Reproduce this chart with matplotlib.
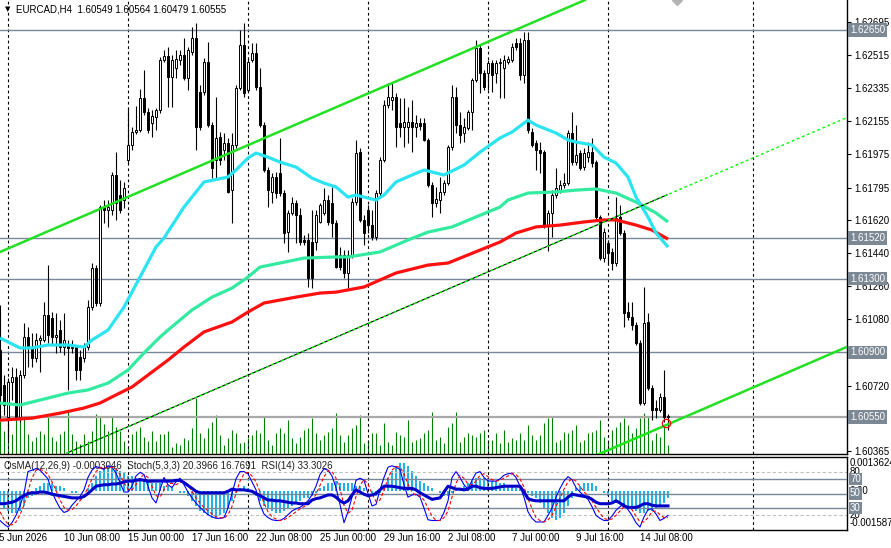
import matplotlib
matplotlib.use("Agg")
import matplotlib.pyplot as plt
import matplotlib.transforms as mtransforms
import numpy as np

plt.rcParams['font.family'] = ['Liberation Sans', 'DejaVu Sans']

# ---- EURCAD H4, bars from 5 Jun 16:00 (index -2) to 15 Jul 12:00 ----
opens = [
    1.60913, 1.60723, 1.60549, 1.60739, 1.60766, 1.60549, 1.60777, 1.60983, 1.60929, 1.60870,
    1.60967, 1.60967, 1.61103, 1.61087, 1.60983, 1.61021, 1.60929, 1.60940, 1.60924, 1.60929,
    1.60875, 1.60870, 1.60929, 1.61146, 1.61358, 1.61168, 1.61689, 1.61673, 1.61673, 1.61863,
    1.61754, 1.61727, 1.61944, 1.62026, 1.62096, 1.62107, 1.62281, 1.62205, 1.62145, 1.62178,
    1.62216, 1.62487, 1.62509, 1.62395, 1.62444, 1.62487, 1.62514, 1.62389, 1.62531, 1.62607,
    1.62313, 1.62313, 1.62476, 1.62134, 1.61944, 1.62069, 1.61998, 1.62037, 1.61781, 1.62026,
    1.62335, 1.62569, 1.62324, 1.62487, 1.62525, 1.62341, 1.62134, 1.61890, 1.61771, 1.61852,
    1.61874, 1.61765, 1.61553, 1.61657, 1.61711, 1.61646, 1.61510, 1.61510, 1.61499, 1.61499,
    1.61608, 1.61657, 1.61727, 1.61711, 1.61603, 1.61429, 1.61429, 1.61331, 1.61429, 1.61716,
    1.61987, 1.61619, 1.61673, 1.61591, 1.61526, 1.61765, 1.61944, 1.62243, 1.62270, 1.62286,
    1.62145, 1.62123, 1.62123, 1.62151, 1.62123, 1.62145, 1.62145, 1.62053, 1.61808, 1.61711,
    1.61727, 1.61771, 1.61819, 1.62015, 1.62286, 1.62134, 1.62091, 1.62118, 1.62205, 1.62379,
    1.62552, 1.62417, 1.62417, 1.62471, 1.62417, 1.62471, 1.62444, 1.62476, 1.62487, 1.62580,
    1.62580, 1.62406, 1.62596, 1.62096, 1.62037, 1.61998, 1.61987, 1.61591, 1.61657, 1.61754,
    1.61781, 1.61808, 1.61819, 1.62091, 1.61933, 1.61982, 1.61906, 1.61960, 1.61987, 1.61933,
    1.61635, 1.61412, 1.61494, 1.61445, 1.61385, 1.61635, 1.61548, 1.61119, 1.61092, 1.61048,
    1.60951, 1.60625, 1.61065, 1.60706, 1.60598, 1.60587, 1.60658, 1.60549,
]
highs = [
    1.61157, 1.60777, 1.60761, 1.60820, 1.60815, 1.60804, 1.61060, 1.61038, 1.61005, 1.61005,
    1.60994, 1.61173, 1.61374, 1.61119, 1.61114, 1.61076, 1.61114, 1.60967, 1.60967, 1.60940,
    1.60913, 1.60951, 1.61184, 1.61385, 1.61374, 1.61700, 1.61727, 1.61727, 1.61879, 1.61987,
    1.61836, 1.61825, 1.62227, 1.62123, 1.62237, 1.62330, 1.62433, 1.62227, 1.62216, 1.62227,
    1.62504, 1.62542, 1.62558, 1.62514, 1.62542, 1.62542, 1.62607, 1.62558, 1.62666, 1.62688,
    1.62351, 1.62498, 1.62585, 1.62151, 1.62286, 1.62096, 1.62091, 1.62064, 1.62091, 1.62351,
    1.62650, 1.62688, 1.62498, 1.62580, 1.62580, 1.62444, 1.62151, 1.61906, 1.61874, 1.61879,
    1.62064, 1.61781, 1.61673, 1.61743, 1.61727, 1.61684, 1.61537, 1.61548, 1.61673, 1.61673,
    1.61711, 1.61792, 1.61754, 1.61798, 1.61619, 1.61472, 1.61456, 1.61456, 1.61738, 1.62053,
    1.62009, 1.61646, 1.61700, 1.61673, 1.61781, 1.61960, 1.62270, 1.62362, 1.62362, 1.62308,
    1.62281, 1.62281, 1.62232, 1.62270, 1.62189, 1.62172, 1.62172, 1.62064, 1.61825, 1.61798,
    1.61852, 1.61836, 1.62026, 1.62351, 1.62341, 1.62205, 1.62172, 1.62216, 1.62389, 1.62596,
    1.62569, 1.62433, 1.62487, 1.62487, 1.62487, 1.62498, 1.62514, 1.62509, 1.62580, 1.62607,
    1.62607, 1.62639, 1.62639, 1.62118, 1.62053, 1.62042, 1.61998, 1.61673, 1.61781, 1.61901,
    1.61836, 1.61874, 1.62107, 1.62205, 1.62134, 1.61998, 1.62009, 1.62042, 1.62064, 1.61944,
    1.61646, 1.61575, 1.61510, 1.61467, 1.61743, 1.61700, 1.61564, 1.61173, 1.61173, 1.61065,
    1.60967, 1.61255, 1.61114, 1.60723, 1.60641, 1.60680, 1.60804, 1.60564,
]
lows = [
    1.60532, 1.60560, 1.60424, 1.60641, 1.60532, 1.60521, 1.60761, 1.60820, 1.60820, 1.60847,
    1.60793, 1.60956, 1.60951, 1.60940, 1.60897, 1.60902, 1.60886, 1.60696, 1.60897, 1.60750,
    1.60750, 1.60847, 1.60913, 1.61130, 1.61151, 1.61151, 1.61603, 1.61581, 1.61646, 1.61619,
    1.61657, 1.61684, 1.61928, 1.61998, 1.62085, 1.62096, 1.62189, 1.62091, 1.62069, 1.62107,
    1.62200, 1.62476, 1.62232, 1.62232, 1.62389, 1.62460, 1.62379, 1.62324, 1.62514, 1.61998,
    1.62107, 1.62297, 1.62123, 1.61846, 1.61836, 1.61917, 1.61944, 1.61765, 1.61603, 1.62009,
    1.62324, 1.62286, 1.62313, 1.62476, 1.62324, 1.62123, 1.61879, 1.61689, 1.61711, 1.61738,
    1.61749, 1.61494, 1.61445, 1.61646, 1.61494, 1.61483, 1.61483, 1.61255, 1.61249, 1.61456,
    1.61603, 1.61646, 1.61591, 1.61526, 1.61358, 1.61347, 1.61304, 1.61249, 1.61412, 1.61700,
    1.61608, 1.61483, 1.61548, 1.61510, 1.61510, 1.61749, 1.61933, 1.62227, 1.62216, 1.62015,
    1.62069, 1.62015, 1.62037, 1.61987, 1.62069, 1.62107, 1.62047, 1.61798, 1.61635, 1.61689,
    1.61657, 1.61754, 1.61808, 1.61998, 1.62091, 1.62037, 1.62042, 1.62107, 1.62107, 1.62368,
    1.62308, 1.62324, 1.62324, 1.62313, 1.62362, 1.62281, 1.62281, 1.62465, 1.62476, 1.62542,
    1.62379, 1.62362, 1.62091, 1.62015, 1.61890, 1.61874, 1.61575, 1.61450, 1.61526, 1.61738,
    1.61765, 1.61792, 1.61808, 1.61917, 1.61917, 1.61890, 1.61890, 1.61933, 1.61906, 1.61619,
    1.61401, 1.61390, 1.61374, 1.61347, 1.61369, 1.61537, 1.61038, 1.61076, 1.61021, 1.60940,
    1.60614, 1.60614, 1.60696, 1.60532, 1.60543, 1.60576, 1.60521, 1.60479,
]
closes = [
    1.60669, 1.60614, 1.60739, 1.60766, 1.60549, 1.60777, 1.60983, 1.60929, 1.60870, 1.60967,
    1.60978, 1.61103, 1.60994, 1.60983, 1.60994, 1.60929, 1.60967, 1.60924, 1.60929, 1.60804,
    1.60804, 1.60929, 1.61146, 1.61358, 1.61168, 1.61689, 1.61673, 1.61689, 1.61863, 1.61711,
    1.61673, 1.61792, 1.62026, 1.62096, 1.62107, 1.62281, 1.62205, 1.62107, 1.62183, 1.62216,
    1.62487, 1.62509, 1.62395, 1.62487, 1.62493, 1.62514, 1.62389, 1.62542, 1.62607, 1.62123,
    1.62123, 1.62476, 1.62134, 1.61901, 1.62064, 1.61944, 1.62037, 1.61771, 1.62026, 1.62335,
    1.62569, 1.62308, 1.62476, 1.62525, 1.62341, 1.62134, 1.61890, 1.61781, 1.61852, 1.61765,
    1.61765, 1.61548, 1.61657, 1.61711, 1.61646, 1.61499, 1.61499, 1.61304, 1.61304, 1.61646,
    1.61700, 1.61727, 1.61608, 1.61603, 1.61363, 1.61363, 1.61331, 1.61429, 1.61716, 1.61982,
    1.61619, 1.61548, 1.61591, 1.61526, 1.61765, 1.61944, 1.62243, 1.62286, 1.62286, 1.62123,
    1.62123, 1.62151, 1.62151, 1.62123, 1.62145, 1.62129, 1.62053, 1.61808, 1.61711, 1.61732,
    1.61771, 1.61819, 1.62015, 1.62286, 1.62134, 1.62080, 1.62123, 1.62205, 1.62379, 1.62552,
    1.62417, 1.62341, 1.62471, 1.62406, 1.62471, 1.62476, 1.62487, 1.62493, 1.62558, 1.62558,
    1.62406, 1.62596, 1.62107, 1.62026, 1.61998, 1.61982, 1.61591, 1.61657, 1.61754, 1.61792,
    1.61808, 1.61819, 1.62091, 1.61933, 1.61971, 1.61901, 1.61982, 1.61987, 1.61928, 1.61635,
    1.61412, 1.61553, 1.61439, 1.61385, 1.61630, 1.61548, 1.61114, 1.61092, 1.61048, 1.60951,
    1.60625, 1.61060, 1.60706, 1.60587, 1.60587, 1.60658, 1.60549, 1.60555,
]
volumes = [
    33, 23, 30, 20, 37, 40, 37, 20, 13, 17,
    23, 20, 38, 17, 13, 20, 23, 43, 20, 13,
    10, 20, 13, 23, 40, 38, 30, 23, 37, 27,
    23, 13, 7, 20, 23, 27, 17, 13, 23, 13,
    20, 20, 23, 7, 11, 9, 16, 14, 26, 56,
    21, 16, 26, 32, 39, 19, 9, 16, 24, 21,
    11, 12, 16, 19, 24, 21, 37, 14, 9, 21,
    26, 21, 34, 16, 11, 17, 24, 26, 36, 21,
    14, 19, 22, 26, 41, 19, 12, 19, 26, 29,
    39, 11, 14, 21, 21, 9, 31, 12, 9, 22,
    19, 17, 34, 12, 14, 16, 21, 24, 42, 14,
    17, 11, 27, 31, 42, 12, 17, 21, 19, 17,
    21, 24, 14, 14, 21, 11, 24, 12, 16, 14,
    21, 14, 29, 19, 14, 19, 31, 36, 37, 12,
    14, 22, 21, 24, 29, 12, 14, 21, 22, 24,
    34, 17, 12, 24, 27, 32, 36, 29, 21, 26,
    36, 41, 37, 14, 21, 17, 27, 9,
]

# moving averages, read at sample bars
ma_fast_idx = [-2, 3, 6, 10, 15, 19, 21, 25, 29, 33, 37, 39, 44, 49, 55, 57, 60, 62, 65, 68,
               72, 76, 79, 82, 85, 87, 92, 94, 97, 101, 104, 109, 114, 118, 123, 126, 130, 132,
               137, 140, 142, 146, 149, 152, 155, 157, 160, 162, 165]
ma_fast = [1.60978, 1.60924, 1.60924, 1.60940, 1.60940, 1.60929, 1.60967, 1.61021, 1.61146, 1.61309,
           1.61472, 1.61521, 1.61689, 1.61825, 1.61852, 1.61890, 1.61955, 1.61982, 1.61960, 1.61933,
           1.61906, 1.61846, 1.61819, 1.61798, 1.61743, 1.61754, 1.61727, 1.61754, 1.61825, 1.61863,
           1.61890, 1.61863, 1.61917, 1.61987, 1.62064, 1.62096, 1.62161, 1.62134, 1.62091, 1.62053,
           1.62042, 1.62026, 1.61960, 1.61928, 1.61852, 1.61743, 1.61635, 1.61548, 1.61472]
ma_mid_idx = [-2, 3, 10, 15, 20, 25, 30, 34, 38, 40, 46, 51, 56, 60, 63, 68, 74, 82, 85, 93,
              100, 105, 111, 117, 123, 125, 130, 137, 142, 147, 152, 157, 162, 165]
ma_mid = [1.60625, 1.60614, 1.60652, 1.60679, 1.60696, 1.60733, 1.60804, 1.60897, 1.60983, 1.61021,
          1.61130, 1.61200, 1.61249, 1.61309, 1.61363, 1.61385, 1.61412, 1.61418, 1.61418, 1.61445,
          1.61510, 1.61553, 1.61581, 1.61635, 1.61689, 1.61727, 1.61765, 1.61771, 1.61781, 1.61787,
          1.61765, 1.61716, 1.61657, 1.61608]
ma_slow_idx = [-2, 6, 13, 19, 23, 27, 31, 35, 40, 44, 49, 56, 60, 64, 72, 78, 82, 89, 97, 105,
               110, 115, 123, 127, 132, 138, 144, 149, 152, 157, 161, 165]
ma_slow = [1.60532, 1.60543, 1.60570, 1.60598, 1.60625, 1.60669, 1.60712, 1.60777, 1.60858, 1.60929,
           1.61011, 1.61065, 1.61119, 1.61168, 1.61200, 1.61222, 1.61227, 1.61255, 1.61331, 1.61374,
           1.61385, 1.61429, 1.61499, 1.61548, 1.61581, 1.61591, 1.61608, 1.61619, 1.61619, 1.61591,
           1.61564, 1.61515]

# trend lines (bar index, price)
upper_channel = ([-2, 144.25], [1.61445, 1.62813])
lower_channel = ([14.75, 164.75], [1.60354, 1.61755])
lower_ray = ([14.75, 209.75], [1.60354, 1.62175])
support_line = ([147.25, 209.75], [1.60343, 1.60930])

levels = [1.62650, 1.61520, 1.61300, 1.60900, 1.60550]
price_ticks = [1.62695, 1.62515, 1.62335, 1.62155, 1.61975, 1.61795, 1.61620,
               1.61440, 1.61260, 1.61080, 1.60900, 1.60720, 1.60365]
week_lines = [0, 30, 60, 90, 120, 150, 186.25]
date_idx = [-2.25, 14, 30, 46, 62, 78, 94, 110, 126, 142, 158]
date_labels = ["5 Jun 2026", "10 Jun 08:00", "15 Jun 00:00", "17 Jun 16:00", "22 Jun 08:00",
               "25 Jun 00:00", "29 Jun 16:00", "2 Jul 08:00", "7 Jul 00:00", "9 Jul 16:00",
               "14 Jul 08:00"]

# oscillators (OsMA in 1e-4)
osma = [
    -5, -7, -8, -9, -9, -8, -6, -3, -2, 1,
    2, 3, 3, 3, 2, 2, 1, 0, -1, -1,
    0, 0, 1, 3, 6, 8, 9, 10, 10, 9,
    8, 7, 6, 6, 5, 5, 4, 4, 3, 3,
    3, 2, 2, 1, 0, -1, -1, -2, -4, -6,
    -8, -9, -10, -11, -11, -10, -9, -7, -4, -1,
    1, 2, 1, 0, -2, -4, -6, -7, -8, -9,
    -9, -8, -7, -6, -5, -4, -3, -3, -2, -1,
    1, 2, 3, 3, 4, 3, 3, 3, 3, 2,
    2, 1, 0, -1, -2, -1, 2, 5, 8, 10,
    11, 11, 10, 8, 6, 4, 3, 2, 1, 0,
    -1, -2, -2, -1, 1, 1, 2, 3, 4, 5,
    5, 5, 5, 4, 4, 3, 3, 2, 2, 1,
    1, 0, -1, -2, -3, -5, -7, -9, -11, -12,
    -11, -9, -6, -3, 1, 2, 3, 3, 3, 2,
    0, -1, -2, -4, -5, -5, -6, -6, -7, -8,
    -9, -9, -8, -8, -7, -6, -5, -3,
]
stoch_main = [
    13, 8, 4, 10, 20, 33, 50, 80, 82, 84,
    82, 76, 70, 52, 40, 30, 24, 26, 34, 40,
    46, 55, 72, 82, 87, 85, 83, 88, 86, 78,
    65, 52, 52, 60, 74, 79, 76, 60, 44, 37,
    55, 72, 62, 58, 66, 71, 62, 52, 44, 37,
    31, 26, 21, 18, 16, 16, 17, 30, 50, 70,
    80, 80, 77, 66, 55, 35, 22, 17, 14, 13,
    13, 16, 21, 26, 29, 31, 35, 40, 48, 60,
    76, 84, 82, 74, 58, 35, 10, 25, 45, 68,
    71, 68, 50, 33, 35, 55, 72, 86, 88, 86,
    83, 62, 45, 48, 49, 45, 30, 14, 13, 13,
    13, 24, 40, 72, 80, 72, 62, 56, 68, 78,
    80, 72, 67, 67, 67, 70, 75, 77, 78, 72,
    60, 45, 25, 16, 11, 11, 11, 20, 30, 45,
    57, 67, 73, 69, 58, 52, 47, 42, 32, 20,
    16, 13, 13, 19, 27, 32, 36, 28, 20, 10,
    4, 18, 28, 29, 22, 13, 16, 20,
]
stoch_signal = [
    25, 15, 8, 7, 11, 21, 34, 54, 71, 82,
    83, 81, 76, 66, 54, 41, 31, 27, 28, 33,
    40, 47, 58, 70, 80, 85, 85, 85, 86, 84,
    76, 65, 56, 55, 62, 71, 76, 72, 60, 47,
    45, 55, 63, 64, 62, 65, 66, 62, 53, 44,
    37, 31, 26, 22, 18, 17, 16, 21, 32, 50,
    67, 77, 79, 74, 66, 52, 37, 25, 18, 15,
    13, 14, 17, 21, 25, 29, 32, 35, 41, 49,
    61, 73, 81, 80, 71, 56, 34, 23, 27, 46,
    61, 69, 63, 50, 39, 41, 54, 71, 82, 87,
    86, 77, 63, 52, 47, 47, 41, 30, 19, 13,
    13, 17, 26, 45, 64, 75, 71, 63, 62, 67,
    75, 77, 73, 69, 67, 68, 71, 74, 77, 76,
    70, 59, 43, 29, 17, 13, 11, 14, 20, 32,
    44, 56, 66, 70, 67, 60, 52, 47, 40, 31,
    23, 16, 14, 15, 20, 26, 32, 32, 28, 19,
    11, 11, 17, 25, 26, 21, 17, 17,
]
rsi = [
    36, 36, 37, 38, 40, 44, 47, 50, 51, 51,
    52, 52, 51, 49, 48, 47, 46, 45, 44, 44,
    44, 46, 50, 55, 60, 61, 62, 62, 63, 63,
    64, 66, 67, 67, 68, 69, 68, 67, 67, 67,
    67, 67, 67, 67, 68, 68, 65, 61, 57, 53,
    51, 51, 51, 51, 51, 51, 51, 53, 56, 55,
    55, 55, 54, 53, 50, 47, 44, 41, 41, 40,
    40, 39, 38, 37, 37, 36, 36, 36, 41, 43,
    44, 46, 48, 48, 45, 40, 37, 40, 48, 55,
    52, 49, 47, 48, 50, 55, 60, 60, 60, 59,
    58, 57, 57, 57, 55, 51, 48, 45, 42, 43,
    44, 52, 60, 58, 56, 56, 55, 56, 60, 60,
    58, 57, 57, 57, 58, 59, 60, 60, 60, 60,
    60, 52, 43, 41, 40, 40, 40, 40, 40, 40,
    40, 40, 45, 49, 48, 47, 46, 45, 42, 38,
    36, 36, 36, 37, 40, 37, 33, 31, 31, 31,
    33, 36, 36, 34, 33, 33, 33, 33,
]

# ---- layout (pixels of the 891x548 picture) ----
W, H = 891.0, 548.0
main_rect = [0, (H - 453.5) / H, 847 / W, 453.5 / H]
ind_rect = [0, (H - 530) / H, 847 / W, 73 / H]
XMIN, XMAX = -2, 209.75
PMIN, PMAX = 1.60351, 1.62813
LEVEL_GRAY = '#778899'

fig = plt.figure(figsize=(W / 100, H / 100), dpi=100)

# volume underneath the price chart
vax = fig.add_axes(main_rect)
vb = np.arange(len(volumes)) - 2
vax.vlines(vb, 0, volumes, color='#008000', lw=0.8)
vax.set_xlim(XMIN, XMAX)
vax.set_ylim(0, 453.5)
vax.axis('off')

ax = fig.add_axes(main_rect)
ax.patch.set_visible(False)
ax.set_xlim(XMIN, XMAX)
ax.set_ylim(PMIN, PMAX)

for wl in week_lines:
    ax.axvline(wl, color='black', lw=0.8, ls=(0, (2.5, 2.5)), zorder=1)
for lv in levels:
    if lv == 1.60550:
        ax.axhline(lv, color='#a9a9a9', lw=1.6, zorder=1.5)
    else:
        ax.axhline(lv, color=LEVEL_GRAY, lw=1.0, zorder=1.5)

# candles
bars = np.arange(len(closes)) - 2
o = np.array(opens); c = np.array(closes)
ax.vlines(bars, lows, highs, color='black', lw=0.8, zorder=3)
up = c >= o
body_lo = np.minimum(o, c)
body_h = np.maximum(np.abs(c - o), 0.00002)
ax.bar(bars[up], body_h[up], bottom=body_lo[up], width=0.55, color='white',
       edgecolor='black', linewidth=0.7, zorder=3.5)
ax.bar(bars[~up], body_h[~up], bottom=body_lo[~up], width=0.55, color='black',
       edgecolor='black', linewidth=0.7, zorder=3.5)

# moving averages
ax.plot(ma_slow_idx, ma_slow, color='#ff1010', lw=2.3, zorder=4, solid_capstyle='butt')
ax.plot(ma_mid_idx, ma_mid, color='#33eba0', lw=2.3, zorder=4, solid_capstyle='butt')
ax.plot(ma_fast_idx, ma_fast, color='#2ae4f2', lw=2.3, zorder=4, solid_capstyle='butt')

# trend lines
ax.plot(*upper_channel, color='#22e022', lw=1.8, zorder=5)
ax.plot(*support_line, color='#22e022', lw=1.8, zorder=5)
ax.plot(*lower_channel, color='black', lw=0.8, zorder=5)
ax.plot(*lower_ray, color='#00ff00', lw=1.0, ls=(0, (2, 2)), zorder=5.5)

ax.plot([164.5], [1.60516], marker='o', ms=6, mfc='none', mec='red', mew=0.9, zorder=6)
ax.plot([167.25], [PMAX - 0.00002], marker='D', ms=5, color='#b4b4b4', zorder=6)

# price scale on the right
ax.yaxis.tick_right()
ax.set_yticks(price_ticks)
ax.set_yticklabels(["" if t in levels else f"{t:.5f}" for t in price_ticks])
ax.tick_params(axis='y', length=3, width=0.8, labelsize=7, pad=2, colors='black')
ax.set_xticks([])
for s in ['top', 'left']:
    ax.spines[s].set_visible(False)
ax.spines['right'].set_linewidth(1.0)
ax.spines['bottom'].set_linewidth(1.0)

ptrans = mtransforms.blended_transform_factory(ax.transAxes, ax.transData)
for lv in levels:
    ax.text(1.0 + 3 / 847, lv, f"{lv:.5f}", transform=ptrans, ha='left', va='center',
            fontsize=7, color='white', clip_on=False, zorder=10,
            bbox=dict(boxstyle='square,pad=0.18', fc='#7c8894', ec='none'))

fig.text(5 / W, 1 - 9 / H, "\u25bc", fontsize=5, ha='left', va='center', family='DejaVu Sans')
fig.text(16 / W, 1 - 9 / H, "EURCAD,H4  1.60549 1.60564 1.60479 1.60555", fontsize=7,
         ha='left', va='center', color='black')

# ---- indicator window ----
oax = fig.add_axes(ind_rect)
ib = np.arange(len(osma)) - 2
oax.bar(ib, np.array(osma) * 1e-4, width=0.6, color='#1eb3ea', zorder=2)
oax.set_xlim(XMIN, XMAX)
oax.set_ylim(-0.001587, 0.0013624)
oax.set_xticks([])
oax.set_yticks([])
for s in oax.spines.values():
    s.set_visible(False)

sax = fig.add_axes(ind_rect)
sax.patch.set_visible(False)
sax.set_xlim(XMIN, XMAX)
sax.set_ylim(0, 100)
for lv in [80, 20]:
    sax.axhline(lv, color='#c0c0c0', lw=0.8, ls=(0, (3, 2)), zorder=1)
for lv in [70, 50, 30]:
    sax.axhline(lv, color=LEVEL_GRAY, lw=1.0, zorder=3)
for wl in week_lines:
    sax.axvline(wl, color='black', lw=0.8, ls=(0, (2.5, 2.5)), zorder=1)
sb = np.arange(len(stoch_main)) - 2
sax.plot(sb, stoch_main, color='#0000ff', lw=0.8, zorder=4)
sax.plot(np.arange(len(stoch_signal)) - 2, stoch_signal, color='red', lw=0.8,
         ls=(0, (3, 2)), zorder=4)
sax.plot(np.arange(len(rsi)) - 2, rsi, color='#0000c8', lw=2.2, zorder=5)
sax.set_xticks([])
sax.set_yticks([])
sax.spines['left'].set_visible(False)
for s in ['top', 'right', 'bottom']:
    sax.spines[s].set_linewidth(1.0)

sax.text(4 / 847, 0.88, "OsMA(12,26,9) -0.0003046  Stoch(5,3,3) 20.3966 16.7691  RSI(14) 33.3026",
         transform=sax.transAxes, fontsize=7, ha='left', va='center', color='#202020')

strans = mtransforms.blended_transform_factory(sax.transAxes, sax.transData)
otrans = mtransforms.blended_transform_factory(oax.transAxes, oax.transData)
xr = 1.0 + 3 / 847
sax.text(xr, 91.5, "0.0013624", transform=strans, fontsize=7, ha='left', va='center', clip_on=False)
sax.text(xr, 80, "80", transform=strans, fontsize=7, ha='left', va='center', clip_on=False)
oax.text(xr, 0.0, "0.00", transform=otrans, fontsize=7, ha='left', va='center', clip_on=False)
sax.text(xr, 20, "20", transform=strans, fontsize=7, ha='left', va='center', clip_on=False)
sax.text(xr, 9, "-0.001587", transform=strans, fontsize=7, ha='left', va='center', clip_on=False)
for lv in [70, 50, 30]:
    sax.text(xr, lv, str(lv), transform=strans, fontsize=7, ha='left', va='center', color='white',
             clip_on=False, zorder=10,
             bbox=dict(boxstyle='square,pad=0.12', fc='#7c8894', ec='none'))

# time labels
xtrans = mtransforms.blended_transform_factory(sax.transData, sax.transAxes)
for di, dl in zip(date_idx, date_labels):
    sax.text(di, -0.105, dl, transform=xtrans, fontsize=7, ha='left', va='center', clip_on=False)

fig.savefig("out.png", dpi=100)
